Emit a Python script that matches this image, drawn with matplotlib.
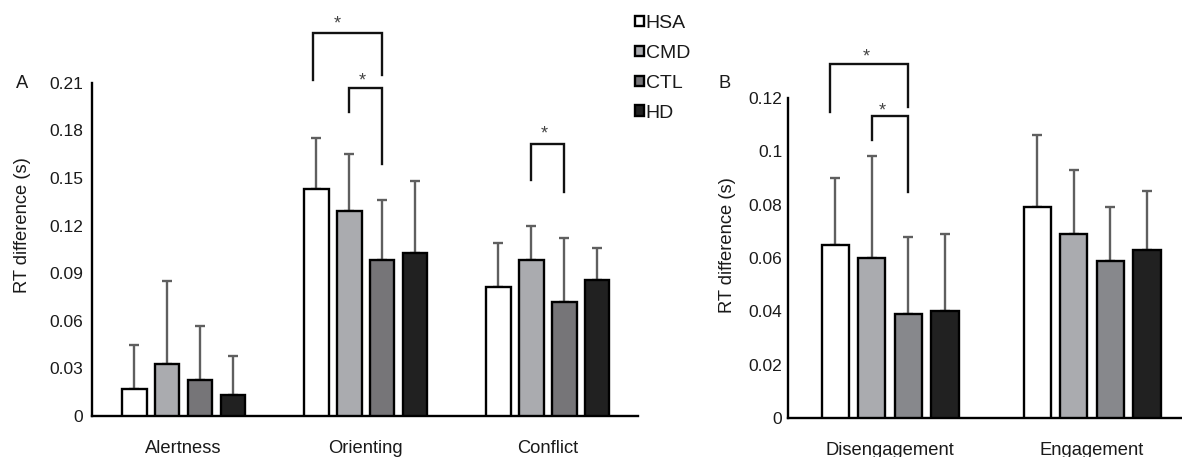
import numpy as np
import matplotlib
matplotlib.use("Agg")
import matplotlib.pyplot as plt
from matplotlib.patches import Patch

plt.rcParams['font.family'] = ['Liberation Sans', 'DejaVu Sans']

# groups and colours
groups = ['HSA', 'CMD', 'CTL', 'HD']
colors_a = ['#ffffff', '#aaabaf', '#767578', '#212121']
colors_b = ['#ffffff', '#aaabaf', '#87888c', '#212121']

# panel A data (means and upper error bar tops)
cats_a = ['Alertness', 'Orienting', 'Conflict']
mean_a = {
    'HSA': [0.017, 0.143, 0.081],
    'CMD': [0.033, 0.129, 0.098],
    'CTL': [0.023, 0.098, 0.072],
    'HD':  [0.013, 0.103, 0.086],
}
top_a = {
    'HSA': [0.045, 0.175, 0.109],
    'CMD': [0.085, 0.165, 0.120],
    'CTL': [0.057, 0.136, 0.112],
    'HD':  [0.038, 0.148, 0.106],
}
yticks_a = [0, 0.03, 0.06, 0.09, 0.12, 0.15, 0.18, 0.21]
ylabels_a = ['0', '0.03', '0.06', '0.09', '0.12', '0.15', '0.18', '0.21']

# panel B data
cats_b = ['Disengagement', 'Engagement']
mean_b = {
    'HSA': [0.065, 0.079],
    'CMD': [0.060, 0.069],
    'CTL': [0.039, 0.059],
    'HD':  [0.040, 0.063],
}
top_b = {
    'HSA': [0.090, 0.106],
    'CMD': [0.098, 0.093],
    'CTL': [0.068, 0.079],
    'HD':  [0.069, 0.085],
}
yticks_b = [0, 0.02, 0.04, 0.06, 0.08, 0.1, 0.12]
ylabels_b = ['0', '0.02', '0.04', '0.06', '0.08', '0.1', '0.12']

step = 0.181
width = 0.135
offsets = [-1.5 * step, -0.5 * step, 0.5 * step, 1.5 * step]

fig = plt.figure(figsize=(11.82, 4.57), dpi=100)
ax_a = fig.add_axes([0.0776, 0.0897, 0.4622, 0.7293])
ax_b = fig.add_axes([0.6667, 0.0847, 0.3333, 0.7015])


def draw_panel(ax, cats, means, tops, colors):
    x = np.arange(len(cats))
    for i, g in enumerate(groups):
        m = np.array(means[g])
        t = np.array(tops[g])
        ax.bar(x + offsets[i], m, width, color=colors[i], edgecolor='black',
               linewidth=1.7, zorder=3)
        ax.errorbar(x + offsets[i], m, yerr=[np.zeros_like(m), t - m], fmt='none',
                    ecolor='#5f5f5f', elinewidth=1.7, capsize=3.5, capthick=1.7,
                    zorder=2)
    ax.set_xticks(x)
    ax.set_xticklabels(cats)
    for s in ['top', 'right']:
        ax.spines[s].set_visible(False)
    for s in ['left', 'bottom']:
        ax.spines[s].set_linewidth(1.7)
    ax.tick_params(length=0, labelsize=12.5, colors='#1a1a1a')
    ax.tick_params(axis='x', labelsize=13.2)
    ax.set_ylabel('RT difference (s)', fontsize=13.2, color='#1a1a1a')


def bracket(ax, x1, x2, ytop, yl, yr, ys, star_x):
    ax.plot([x1, x1, x2, x2], [yl, ytop, ytop, yr], color='#111111', lw=1.7,
            clip_on=False, solid_joinstyle='miter')
    ax.text(star_x, ys, '*', ha='center', va='center', fontsize=13,
            color='#444444', clip_on=False)


draw_panel(ax_a, cats_a, mean_a, top_a, colors_a)
ax_a.set_xlim(-0.505, 2.496)
ax_a.set_ylim(0, 0.21)
ax_a.set_yticks(yticks_a)
ax_a.set_yticklabels(ylabels_a)
ax_a.tick_params(axis='y', pad=6)
ax_a.tick_params(axis='x', pad=17)
ax_a.yaxis.set_label_coords(-0.111, 0.573)

draw_panel(ax_b, cats_b, mean_b, top_b, colors_b)
ax_b.set_xlim(-0.505, 1.445)
ax_b.set_ylim(0, 0.12)
ax_b.set_yticks(yticks_b)
ax_b.set_yticklabels(ylabels_b)
ax_b.tick_params(axis='y', pad=4)
ax_b.tick_params(axis='x', pad=17)
ax_b.yaxis.set_label_coords(-0.132, 0.5405)

# significance brackets
bracket(ax_a, 1 + offsets[0] - 0.02, 1 + offsets[2], 0.2413, 0.2117, 0.2149, 0.2470, 0.845)
bracket(ax_a, 1 + offsets[1], 1 + offsets[2], 0.2065, 0.1914, 0.1588, 0.2110, 0.98)
bracket(ax_a, 2 + offsets[1], 2 + offsets[2], 0.1714, 0.1487, 0.1413, 0.1775, 1.98)
bracket(ax_b, 0 + offsets[0] - 0.025, 0 + offsets[2], 0.1326, 0.1147, 0.1166, 0.1352, -0.12)
bracket(ax_b, 0 + offsets[1], 0 + offsets[2], 0.1131, 0.1042, 0.0848, 0.1152, -0.04)

# panel letters
fig.text(21.7 / 1182, 1 - 83 / 457, 'A', fontsize=13.2, ha='center', va='center', color='#1a1a1a')
fig.text(725 / 1182, 1 - 83 / 457, 'B', fontsize=13.2, ha='center', va='center', color='#1a1a1a')

# legend
handles = [Patch(facecolor=c, edgecolor='black', linewidth=1.7) for c in colors_a]
fig.legend(handles, groups, loc='upper left', bbox_to_anchor=(635 / 1182, 1 - 15 / 457),
           frameon=False, fontsize=14, handlelength=0.45, handleheight=0.45,
           handletextpad=0.1, labelspacing=0.66, borderpad=0, borderaxespad=0,
           labelcolor='#1a1a1a')

fig.savefig('out.png', dpi=100)
